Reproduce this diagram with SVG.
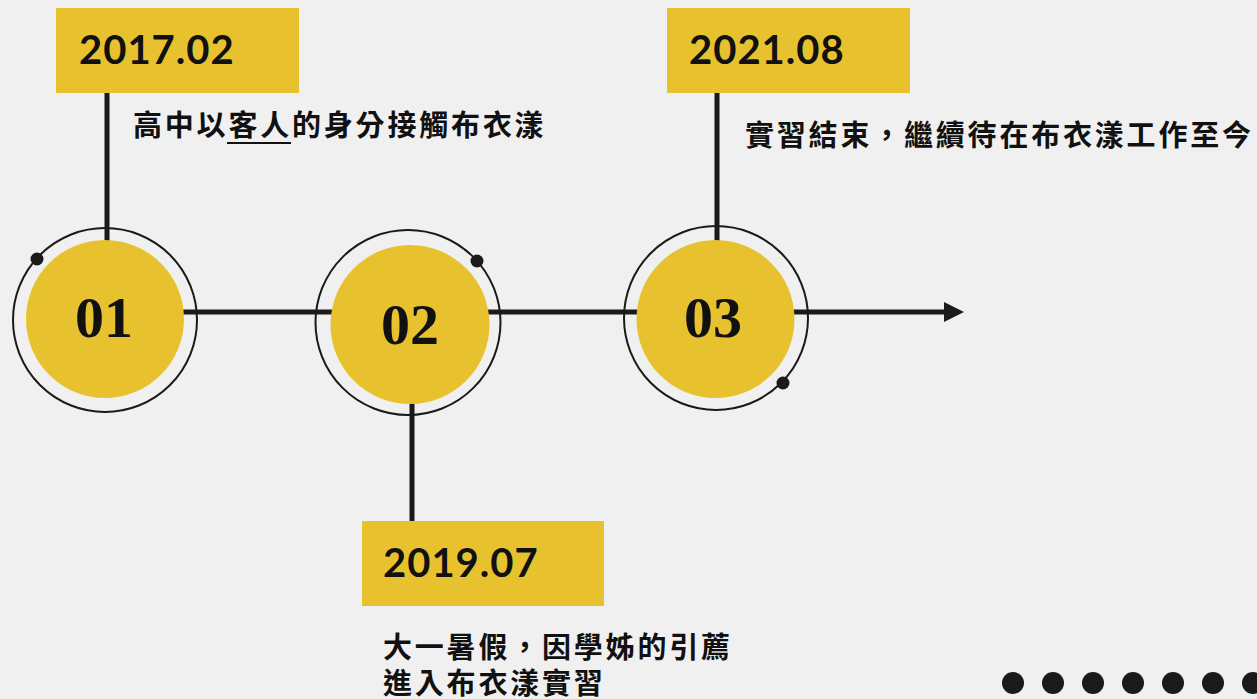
<svg xmlns="http://www.w3.org/2000/svg" width="1257" height="699" viewBox="0 0 1257 699">
<defs>
<style>
.bg{fill:#f0f0f0}
.box{fill:#e8c22e}
.date{font-family:Lato,"Noto Sans",sans-serif;font-weight:700;font-size:40px;letter-spacing:1px;fill:#111}
.num{font-family:"Liberation Serif",serif;font-weight:700;font-size:58px;fill:#111;text-anchor:middle}
.ring{fill:none;stroke:#1a1a1a;stroke-width:2}
.disc{fill:#e8c22e}
.dot{fill:#1a1a1a}
.conn{stroke:#1a1a1a;stroke-width:5;fill:none}
.desc{font-family:"Noto Sans CJK TC","Noto Sans CJK SC",sans-serif;font-weight:700;font-size:29px;letter-spacing:2.8px;fill:#111}
</style>
</defs>
<rect class="bg" x="0" y="0" width="1257" height="699"/>
<g id="connectors">
<line class="conn" x1="105" y1="312" x2="946" y2="312"/>
<polygon points="944,302 964,312 944,322" fill="#1a1a1a"/>
<line class="conn" x1="107" y1="92" x2="107" y2="245"/>
<line class="conn" x1="412" y1="400" x2="412" y2="522"/>
<line class="conn" x1="717" y1="92" x2="717" y2="245"/>
</g>
<g id="node-01">
<rect class="box" x="56" y="8" width="243" height="85"/>
<text class="date" x="79" y="64">2017.02</text>
<circle class="ring" cx="105" cy="320" r="92"/>
<circle class="disc" cx="105" cy="319" r="79"/>
<circle class="dot" cx="37" cy="259" r="6.5"/>
<text class="num" x="104" y="337">01</text>
<text class="desc" x="133" y="136">高中以客人的身分接觸布衣漾</text>
<line x1="227" y1="143" x2="291" y2="143" stroke="#111" stroke-width="2"/>
</g>
<g id="node-02">
<rect class="box" x="362" y="521" width="242" height="85"/>
<text class="date" x="383" y="577">2019.07</text>
<circle class="ring" cx="408" cy="322.5" r="92.5"/>
<circle class="disc" cx="410" cy="324.5" r="79.5"/>
<circle class="dot" cx="477" cy="261" r="6.5"/>
<text class="num" x="410" y="344">02</text>
<text class="desc" x="383" y="658">大一暑假，因學姊的引薦</text>
<text class="desc" x="383" y="694">進入布衣漾實習</text>
</g>
<g id="node-03">
<rect class="box" x="667" y="8" width="243" height="85"/>
<text class="date" x="689" y="64">2021.08</text>
<circle class="ring" cx="716" cy="318" r="92"/>
<circle class="disc" cx="715.5" cy="319" r="79"/>
<circle class="dot" cx="783" cy="383" r="6.5"/>
<text class="num" x="713" y="337">03</text>
<text class="desc" x="745" y="146">實習結束，繼續待在布衣漾工作至今</text>
</g>
<g id="dots">
<circle class="dot" cx="1013" cy="683" r="11"/>
<circle class="dot" cx="1053" cy="683" r="11"/>
<circle class="dot" cx="1093" cy="683" r="11"/>
<circle class="dot" cx="1133" cy="683" r="11"/>
<circle class="dot" cx="1173" cy="683" r="11"/>
<circle class="dot" cx="1213" cy="683" r="11"/>
<circle class="dot" cx="1253" cy="683" r="11"/>
</g>
</svg>
